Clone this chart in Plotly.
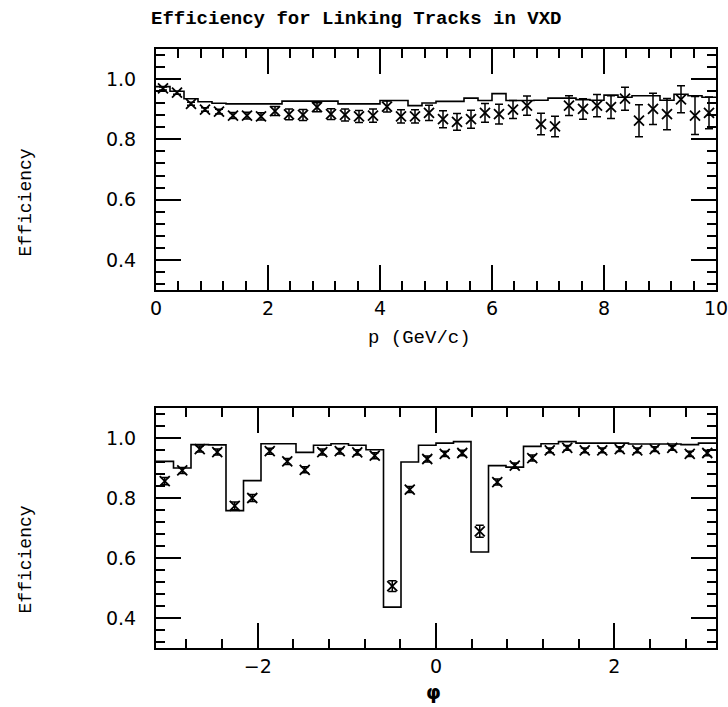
import numpy as np
import plotly.graph_objects as go

# ---------------- data ----------------
# Top panel: efficiency vs momentum, 40 bins of 0.25 GeV/c from 0 to 10
p_bin_width = 0.25
p_eff = [0.969, 0.955, 0.918, 0.899, 0.892, 0.879, 0.879, 0.876, 0.894, 0.883,
         0.881, 0.907, 0.884, 0.881, 0.876, 0.879, 0.909, 0.876, 0.876, 0.888,
         0.867, 0.858, 0.867, 0.888, 0.884, 0.899, 0.912, 0.851, 0.843, 0.912,
         0.901, 0.912, 0.907, 0.935, 0.862, 0.901, 0.884, 0.933, 0.879, 0.888]
p_err = [0.005, 0.005, 0.005, 0.006, 0.008, 0.010, 0.011, 0.012, 0.015, 0.018,
         0.018, 0.015, 0.018, 0.020, 0.020, 0.022, 0.018, 0.022, 0.022, 0.025,
         0.028, 0.028, 0.030, 0.031, 0.033, 0.030, 0.032, 0.036, 0.034, 0.033,
         0.034, 0.037, 0.038, 0.038, 0.053, 0.052, 0.052, 0.045, 0.063, 0.053]
p_hist = [0.975, 0.960, 0.935, 0.925, 0.920, 0.918, 0.918, 0.918, 0.918, 0.927,
          0.927, 0.927, 0.927, 0.918, 0.918, 0.918, 0.929, 0.929, 0.912, 0.921,
          0.926, 0.926, 0.937, 0.929, 0.952, 0.929, 0.929, 0.930, 0.937, 0.937,
          0.932, 0.930, 0.947, 0.940, 0.945, 0.945, 0.930, 0.950, 0.945, 0.940]

# Bottom panel: efficiency vs phi, 32 bins from -pi to pi
phi_nbins = 32
phi_eff = [0.856, 0.892, 0.963, 0.953, 0.774, 0.800, 0.956, 0.922, 0.894, 0.953,
           0.956, 0.952, 0.941, 0.506, 0.828, 0.930, 0.947, 0.950, 0.689, 0.853,
           0.908, 0.933, 0.959, 0.967, 0.959, 0.959, 0.963, 0.959, 0.963, 0.967,
           0.947, 0.950]
phi_err = [0.012, 0.010, 0.010, 0.010, 0.013, 0.012, 0.010, 0.010, 0.010, 0.010,
           0.009, 0.009, 0.010, 0.018, 0.010, 0.010, 0.009, 0.009, 0.020, 0.010,
           0.009, 0.010, 0.008, 0.008, 0.008, 0.008, 0.008, 0.008, 0.008, 0.008,
           0.009, 0.009]
phi_hist = [0.922, 0.900, 0.978, 0.977, 0.758, 0.858, 0.981, 0.981, 0.952, 0.976,
            0.981, 0.976, 0.961, 0.436, 0.920, 0.976, 0.983, 0.988, 0.620, 0.908,
            0.903, 0.972, 0.981, 0.988, 0.983, 0.983, 0.983, 0.980, 0.980, 0.980,
            0.978, 0.983]

title_text = "Efficiency for Linking Tracks in VXD"
ylabel = "Efficiency"
xlabel_top = "p (GeV/c)"
xlabel_bot = "φ"

# ---------------- geometry from bins ----------------
p_edges = np.arange(len(p_eff) + 1) * p_bin_width
p_centers = (p_edges[:-1] + p_edges[1:]) / 2
phi_edges = np.linspace(-np.pi, np.pi, phi_nbins + 1)
phi_centers = (phi_edges[:-1] + phi_edges[1:]) / 2

MONO = "Liberation Mono"
SANS = "DejaVu Sans"

fig = go.Figure()

def add_panel(xs_edges, xs_centers, hist, eff, err, xa, ya):
    fig.add_trace(go.Scatter(
        x=list(xs_edges), y=list(hist) + [hist[-1]],
        mode="lines", line=dict(shape="hv", color="black", width=1.6),
        xaxis=xa, yaxis=ya, showlegend=False, hoverinfo="skip"))
    fig.add_trace(go.Scatter(
        x=list(xs_centers), y=eff, mode="markers",
        marker=dict(symbol="x-thin", size=10, line=dict(width=1.8, color="black"), color="black"),
        error_y=dict(type="data", array=err, visible=True, width=4, thickness=1.5, color="black"),
        xaxis=xa, yaxis=ya, showlegend=False))

add_panel(p_edges, p_centers, p_hist, p_eff, p_err, "x", "y")
add_panel(phi_edges, phi_centers, phi_hist, phi_eff, phi_err, "x2", "y2")

minor_style = dict(ticks="inside", ticklen=9, tickcolor="black", tickwidth=1.5)
axis_common = dict(
    showline=True, linewidth=2, linecolor="black", mirror="allticks",
    ticks="inside", ticklen=25, tickwidth=1.8, tickcolor="black",
    showgrid=False, zeroline=False, ticklabeloverflow="allow",
    tickfont=dict(family=SANS, size=19, color="black"),
)

fig.update_layout(
    width=728, height=707,
    paper_bgcolor="white", plot_bgcolor="white",
    margin=dict(l=156, r=10, t=0, b=0),
    xaxis=dict(axis_common, domain=[0, 1], range=[0, 10], dtick=2, tick0=0,
               minor=dict(minor_style, dtick=0.4, tick0=0), anchor="y"),
    yaxis=dict(axis_common, domain=[0.5898, 0.9307], range=[0.3, 1.1], dtick=0.2, tick0=0,
               tickformat=".1f", ticklabelstandoff=14,
               minor=dict(minor_style, dtick=0.04, tick0=0), anchor="x"),
    xaxis2=dict(axis_common, domain=[0, 1], range=[-np.pi, np.pi], dtick=2, tick0=0,
                minor=dict(minor_style, dtick=0.4, tick0=0), anchor="y2"),
    yaxis2=dict(axis_common, domain=[0.0835, 0.4229], range=[0.3, 1.1], dtick=0.2, tick0=0,
                tickformat=".1f", ticklabelstandoff=14,
                minor=dict(minor_style, dtick=0.04, tick0=0), anchor="x2"),
    annotations=[
        dict(text="<b>" + title_text + "</b>", xref="paper", yref="paper",
             x=-0.0125, y=0.973, xanchor="left", yanchor="middle", showarrow=False,
             font=dict(family=MONO, size=19, color="black")),
        dict(text=ylabel, xref="paper", yref="paper", x=-0.233, y=0.713, textangle=-90,
             xanchor="center", yanchor="middle", showarrow=False,
             font=dict(family=MONO, size=18, color="black")),
        dict(text=ylabel, xref="paper", yref="paper", x=-0.233, y=0.208, textangle=-90,
             xanchor="center", yanchor="middle", showarrow=False,
             font=dict(family=MONO, size=18, color="black")),
        dict(text=xlabel_top, xref="paper", yref="paper", x=0.47, y=0.522,
             xanchor="center", yanchor="middle", showarrow=False,
             font=dict(family=MONO, size=19, color="black")),
        dict(text="<b>" + xlabel_bot + "</b>", xref="paper", yref="paper", x=0.4964, y=0.021,
             xanchor="center", yanchor="middle", showarrow=False,
             font=dict(family=SANS, size=19, color="black")),
    ],
)

fig.write_html("out.html")
